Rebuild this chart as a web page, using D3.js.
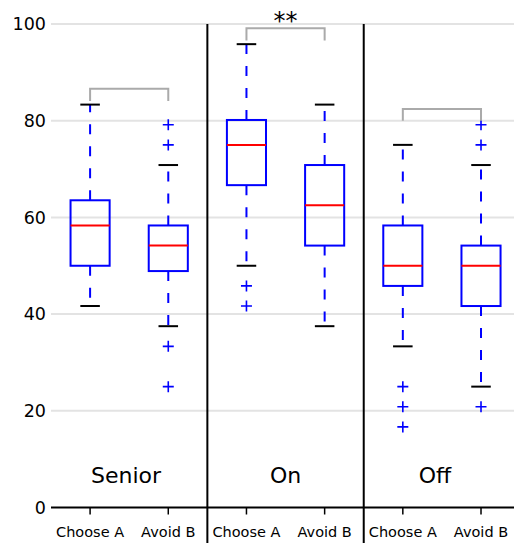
<!DOCTYPE html>
<html>
<head>
<meta charset="utf-8">
<script src="https://cdn.jsdelivr.net/npm/d3@7"></script>
<style>
  html, body { margin: 0; padding: 0; background: #fff; }
  svg { display: block; font-family: "DejaVu Sans", sans-serif; }
</style>
</head>
<body>
<svg id="chart" width="514" height="543"></svg>
<script>
// ---- data ----
const categories = ["Choose A", "Avoid B", "Choose A", "Avoid B", "Choose A", "Avoid B"];
const positions = [1, 2, 3, 4, 5, 6];
const groups = ["Senior", "On", "Off"];
const groupLabelX = [1.46, 3.5, 5.41];
const whiskerLow = [41.67, 37.5, 50, 37.5, 33.33, 25];
const q1 = [50, 48.9, 66.67, 54.17, 45.83, 41.67];
const median = [58.33, 54.17, 75, 62.5, 50, 50];
const q3 = [63.54, 58.33, 80.15, 70.83, 58.33, 54.17];
const whiskerHigh = [83.33, 70.83, 95.83, 83.33, 75, 70.83];
const outliers = [[], [79.17, 75, 33.33, 25], [45.83, 41.67], [], [25, 20.83, 16.67], [79.17, 75, 20.83]];
const yTicks = [0, 20, 40, 60, 80, 100];
const separators = [2.5, 4.5];
const bracketLeft = [1, 3, 5];
const bracketRight = [2, 4, 6];
const bracketTop = [86.6, 99.1, 82.4];
const bracketLeg = [84.1, 96.6, 80.0];
const significance = ["", "**", ""];

// ---- layout ----
const svg = d3.select("#chart");
const x = d3.scaleLinear().domain([0.5, 6.5]).range([51, 520.1]);
const y = d3.scaleLinear().domain([0, 100]).range([507.5, 24]);
const boxW = x(1.25) - x(1);   // half box width (0.25)
const capW = x(1.125) - x(1);  // half cap width

// gridlines
svg.append("g").selectAll("line").data(yTicks.filter(d => d > 0)).join("line")
  .attr("x1", x(0.5)).attr("x2", 514)
  .attr("y1", d => y(d)).attr("y2", d => y(d))
  .attr("stroke", "#e3e3e3").attr("stroke-width", 2);

// y tick labels
svg.append("g").selectAll("text").data(yTicks).join("text")
  .attr("x", x(0.5) - 5).attr("y", d => y(d))
  .attr("dy", "0.36em")
  .attr("text-anchor", "end")
  .attr("font-size", 17.5).attr("fill", "#000")
  .text(d => d);

// x axis line
svg.append("line").attr("x1", x(0.5)).attr("x2", 514)
  .attr("y1", y(0)).attr("y2", y(0))
  .attr("stroke", "#000").attr("stroke-width", 2);

// x ticks
svg.append("g").selectAll("line").data(positions).join("line")
  .attr("x1", d => x(d)).attr("x2", d => x(d))
  .attr("y1", y(0)).attr("y2", y(0) + 7)
  .attr("stroke", "#000").attr("stroke-width", 1.5);
svg.append("g").selectAll("text").data(positions).join("text")
  .attr("x", d => x(d)).attr("y", 536.5)
  .attr("text-anchor", "middle").attr("font-size", 14.5).attr("fill", "#000")
  .text((d, i) => categories[i]);

// separators
svg.append("g").selectAll("line").data(separators).join("line")
  .attr("x1", d => x(d)).attr("x2", d => x(d))
  .attr("y1", y(100)).attr("y2", 543)
  .attr("stroke", "#000").attr("stroke-width", 2);

// group labels
svg.append("g").selectAll("text").data(groups).join("text")
  .attr("x", (d, i) => x(groupLabelX[i])).attr("y", y(5))
  .attr("text-anchor", "middle").attr("font-size", 22).attr("fill", "#000")
  .text(d => d);

// boxes
const bx = svg.append("g").selectAll("g").data(positions).join("g");
// whiskers (dashed, starting at box edge)
bx.append("line")
  .attr("x1", d => x(d)).attr("x2", d => x(d))
  .attr("y1", (d, i) => y(q1[i])).attr("y2", (d, i) => y(whiskerLow[i]))
  .attr("stroke", "#0000ff").attr("stroke-width", 2).attr("stroke-dasharray", "10,12");
bx.append("line")
  .attr("x1", d => x(d)).attr("x2", d => x(d))
  .attr("y1", (d, i) => y(q3[i])).attr("y2", (d, i) => y(whiskerHigh[i]))
  .attr("stroke", "#0000ff").attr("stroke-width", 2).attr("stroke-dasharray", "10,12");
// caps
bx.append("line")
  .attr("x1", d => x(d) - capW).attr("x2", d => x(d) + capW)
  .attr("y1", (d, i) => y(whiskerLow[i])).attr("y2", (d, i) => y(whiskerLow[i]))
  .attr("stroke", "#000").attr("stroke-width", 2);
bx.append("line")
  .attr("x1", d => x(d) - capW).attr("x2", d => x(d) + capW)
  .attr("y1", (d, i) => y(whiskerHigh[i])).attr("y2", (d, i) => y(whiskerHigh[i]))
  .attr("stroke", "#000").attr("stroke-width", 2);
// box rect
bx.append("rect")
  .attr("x", d => x(d) - boxW).attr("width", 2 * boxW)
  .attr("y", (d, i) => y(q3[i])).attr("height", (d, i) => y(q1[i]) - y(q3[i]))
  .attr("fill", "none").attr("stroke", "#0000ff").attr("stroke-width", 2);
// median
bx.append("line")
  .attr("x1", d => x(d) - boxW).attr("x2", d => x(d) + boxW)
  .attr("y1", (d, i) => y(median[i])).attr("y2", (d, i) => y(median[i]))
  .attr("stroke", "#ff0000").attr("stroke-width", 2);
// outliers
bx.each(function(d, i) {
  const g = d3.select(this);
  outliers[i].forEach(v => {
    g.append("path")
      .attr("d", `M${x(d) - 5.5},${y(v)}H${x(d) + 5.5}M${x(d)},${y(v) - 5.5}V${y(v) + 5.5}`)
      .attr("stroke", "#0000ff").attr("stroke-width", 1.6).attr("fill", "none");
  });
});

// significance brackets
const br = svg.append("g").selectAll("g").data(bracketLeft).join("g");
br.append("path")
  .attr("d", (d, i) => `M${x(bracketLeft[i])},${y(bracketLeg[i])}V${y(bracketTop[i])}H${x(bracketRight[i])}V${y(bracketLeg[i])}`)
  .attr("fill", "none").attr("stroke", "#aaaaaa").attr("stroke-width", 2);
br.append("text")
  .attr("x", (d, i) => (x(bracketLeft[i]) + x(bracketRight[i])) / 2)
  .attr("y", (d, i) => y(bracketTop[i]) + 1)
  .attr("text-anchor", "middle").attr("font-size", 24).attr("fill", "#000")
  .text((d, i) => significance[i]);
</script>
</body>
</html>
